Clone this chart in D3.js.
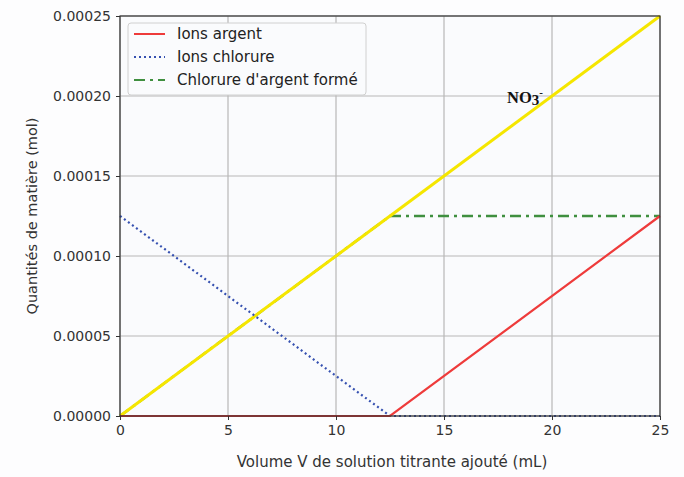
<!DOCTYPE html>
<html><head><meta charset="utf-8">
<script src="https://cdn.jsdelivr.net/npm/d3@7"></script>
<style>body{margin:0;background:#fff;}</style>
</head><body>
<svg id="c" width="684" height="477" font-family="DejaVu Sans, sans-serif"></svg>
<script>
const volumes = [0, 12.5, 25];
const ionsArgent = [0, 0, 0.000125];
const ionsChlorure = [0.000125, 0, 0];
const chlorureArgent = [0, 0.000125, 0.000125];
const nitrate = [0, 0.000125, 0.00025];
const xTicks = [0, 5, 10, 15, 20, 25];
const yTicks = [0, 0.00005, 0.0001, 0.00015, 0.0002, 0.00025];
const legendLabels = ["Ions argent", "Ions chlorure", "Chlorure d'argent formé"];

const svg = d3.select("#c");
const L = 120, R = 660, T = 16, B = 416;
const x = d3.scaleLinear().domain([0, 25]).range([L, R]);
const y = d3.scaleLinear().domain([0, 0.00025]).range([B, T]);

svg.append("rect").attr("width", 684).attr("height", 477).attr("fill", "#fdfdfe");
svg.append("rect").attr("x", L).attr("y", T).attr("width", R - L).attr("height", B - T).attr("fill", "#fafbfd");

// grid
svg.append("g").selectAll("line").data(xTicks).join("line")
  .attr("x1", d => x(d)).attr("x2", d => x(d)).attr("y1", T).attr("y2", B)
  .attr("stroke", "#b8b8b8").attr("stroke-width", 1.2);
svg.append("g").selectAll("line").data(yTicks).join("line")
  .attr("y1", d => y(d)).attr("y2", d => y(d)).attr("x1", L).attr("x2", R)
  .attr("stroke", "#b8b8b8").attr("stroke-width", 1.2);

const line = vals => d3.line().x((d, i) => x(volumes[i])).y(d => y(d))(vals);
const greenDash = "11,5,3,5";

svg.append("path").attr("d", line(chlorureArgent)).attr("fill", "none")
  .attr("stroke", "#3f8f3f").attr("stroke-width", 2.4).attr("stroke-dasharray", greenDash);
svg.append("path").attr("d", line(nitrate)).attr("fill", "none")
  .attr("stroke", "#f5e600").attr("stroke-width", 3);
svg.append("path").attr("d", line(ionsChlorure)).attr("fill", "none")
  .attr("stroke", "#3550b0").attr("stroke-width", 2.2).attr("stroke-dasharray", "2,3");
svg.append("path").attr("d", line(ionsArgent)).attr("fill", "none")
  .attr("stroke", "#ee3b3b").attr("stroke-width", 2.2);

// axes
const xa = svg.append("g").attr("transform", `translate(0,${B})`)
  .call(d3.axisBottom(x).tickValues(xTicks).tickFormat(d3.format("d")).tickSize(4).tickPadding(5));
const ya = svg.append("g").attr("transform", `translate(${L},0)`)
  .call(d3.axisLeft(y).tickValues(yTicks).tickFormat(d3.format(".5f")).tickSize(4).tickPadding(5));
[xa, ya].forEach(a => {
  a.selectAll("text").attr("font-size", 14).attr("fill", "#333").attr("font-family", "DejaVu Sans");
  a.selectAll("line").attr("stroke", "#333");
  a.select(".domain").remove();
});
svg.append("rect").attr("x", L).attr("y", T).attr("width", R - L).attr("height", B - T)
  .attr("fill", "none").attr("stroke", "#333").attr("stroke-width", 1.2);

svg.append("text").attr("x", (L + R) / 2 + 2).attr("y", 467).attr("text-anchor", "middle")
  .attr("font-size", 15).attr("fill", "#333").text("Volume V de solution titrante ajouté (mL)");
svg.append("text").attr("transform", `translate(37,${(T + B) / 2}) rotate(-90)`).attr("text-anchor", "middle")
  .attr("font-size", 14.5).attr("fill", "#333").text("Quantités de matière (mol)");

// legend
const lg = svg.append("g");
lg.append("rect").attr("x", 128).attr("y", 23).attr("width", 238).attr("height", 72).attr("rx", 3)
  .attr("fill", "#fafbfd").attr("stroke", "#d0d0d0");
const styles = [
  {c: "#ee3b3b", d: null}, {c: "#3550b0", d: "2,3"}, {c: "#3f8f3f", d: greenDash}
];
legendLabels.forEach((t, i) => {
  const yy = 34 + i * 23;
  lg.append("line").attr("x1", 134).attr("x2", 165).attr("y1", yy).attr("y2", yy)
    .attr("stroke", styles[i].c).attr("stroke-width", 2).attr("stroke-dasharray", styles[i].d);
  lg.append("text").attr("x", 177).attr("y", yy + 5).attr("font-size", 15).attr("fill", "#222").text(t);
});

// NO3- label
const nt = svg.append("text").attr("x", 507).attr("y", 103)
  .style("font-family", "'Liberation Serif', serif").attr("font-weight", "bold").attr("font-size", 16.5).attr("fill", "#111");
nt.append("tspan").text("NO");
nt.append("tspan").attr("dy", 2).attr("font-size", 15).text("3");
nt.append("tspan").attr("dy", -9).attr("font-size", 11).text("-");
</script>
</body></html>
